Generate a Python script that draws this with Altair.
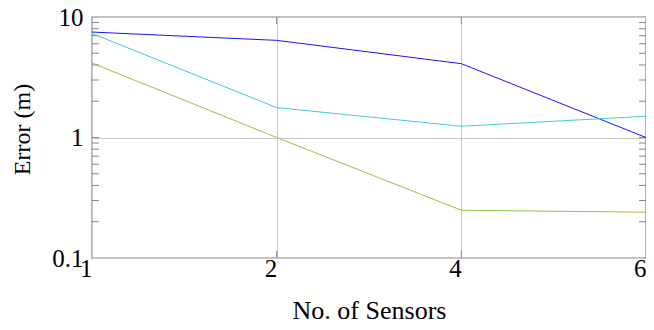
import altair as alt
import pandas as pd

sensors = ["1", "2", "4", "6"]
series_names = ["A", "B", "C"]
err_a = [7.5, 6.4, 4.1, 1.0]
err_b = [7.3, 1.77, 1.24, 1.5]
err_c = [4.15, 1.0, 0.249, 0.24]
colors = ["#1414ff", "#44c6df", "#8dc63f"]
minor_ticks = [0.2, 0.3, 0.4, 0.5, 0.6, 0.7, 0.8, 0.9, 1, 2, 3, 4, 5, 6, 7, 8, 9]
x_major = ["2", "4"]

rows = []
for name, vals in zip(series_names, [err_a, err_b, err_c]):
    for s, v in zip(sensors, vals):
        rows.append({"sensors": s, "error": v, "series": name})
df = pd.DataFrame(rows)

W, H = 554, 241
FONT = "Liberation Serif"

x_enc = alt.X("sensors:O", sort=sensors,
              scale=alt.Scale(type="point", padding=0),
              axis=alt.Axis(title="No. of Sensors", labelAngle=0, grid=True,
                            gridColor="#c8c8c8", ticks=False, domain=False,
                            labelPadding=10, titlePadding=16, titleFontSize=26))
y_enc = alt.Y("error:Q",
              scale=alt.Scale(type="log", domain=[0.1, 10]),
              axis=alt.Axis(title="Error (m)", values=[0.1, 1, 10], format="~g",
                            grid=True, gridColor="#c8c8c8", ticks=False,
                            domain=False, labelPadding=9, titlePadding=17,
                            titleFontSize=24, titleY=112))

lines = alt.Chart(df).mark_line(strokeWidth=1, clip=True).encode(
    x=x_enc, y=y_enc,
    color=alt.Color("series:N", scale=alt.Scale(domain=series_names, range=colors), legend=None),
)

ydf = pd.DataFrame({"v": minor_ticks})
left_t = alt.Chart(ydf).mark_rule(color="#888888", strokeWidth=1).encode(
    y=alt.Y("v:Q"), x=alt.value(0), x2=alt.value(7))
right_t = alt.Chart(ydf).mark_rule(color="#888888", strokeWidth=1).encode(
    y=alt.Y("v:Q"), x=alt.value(W - 7), x2=alt.value(W))

xdf = pd.DataFrame({"s": x_major})
top_t = alt.Chart(xdf).mark_rule(color="#888888", strokeWidth=1).encode(
    x=alt.X("s:O", sort=sensors), y=alt.value(0), y2=alt.value(7))
bot_t = alt.Chart(xdf).mark_rule(color="#888888", strokeWidth=1).encode(
    x=alt.X("s:O", sort=sensors), y=alt.value(H - 7), y2=alt.value(H))

chart = alt.layer(top_t, bot_t, left_t, right_t, lines).properties(
    width=W, height=H,
    autosize=alt.AutoSizeParams(type="none"),
    padding={"left": 84, "top": 9, "right": 0, "bottom": 64},
).configure_view(stroke="black", strokeWidth=1.2).configure_axis(
    labelFont=FONT, titleFont=FONT, labelFontSize=25,
    labelColor="black", titleColor="black", titleFontWeight="normal",
)

chart.save("out.html", embed_options={"renderer": "svg", "actions": False})
